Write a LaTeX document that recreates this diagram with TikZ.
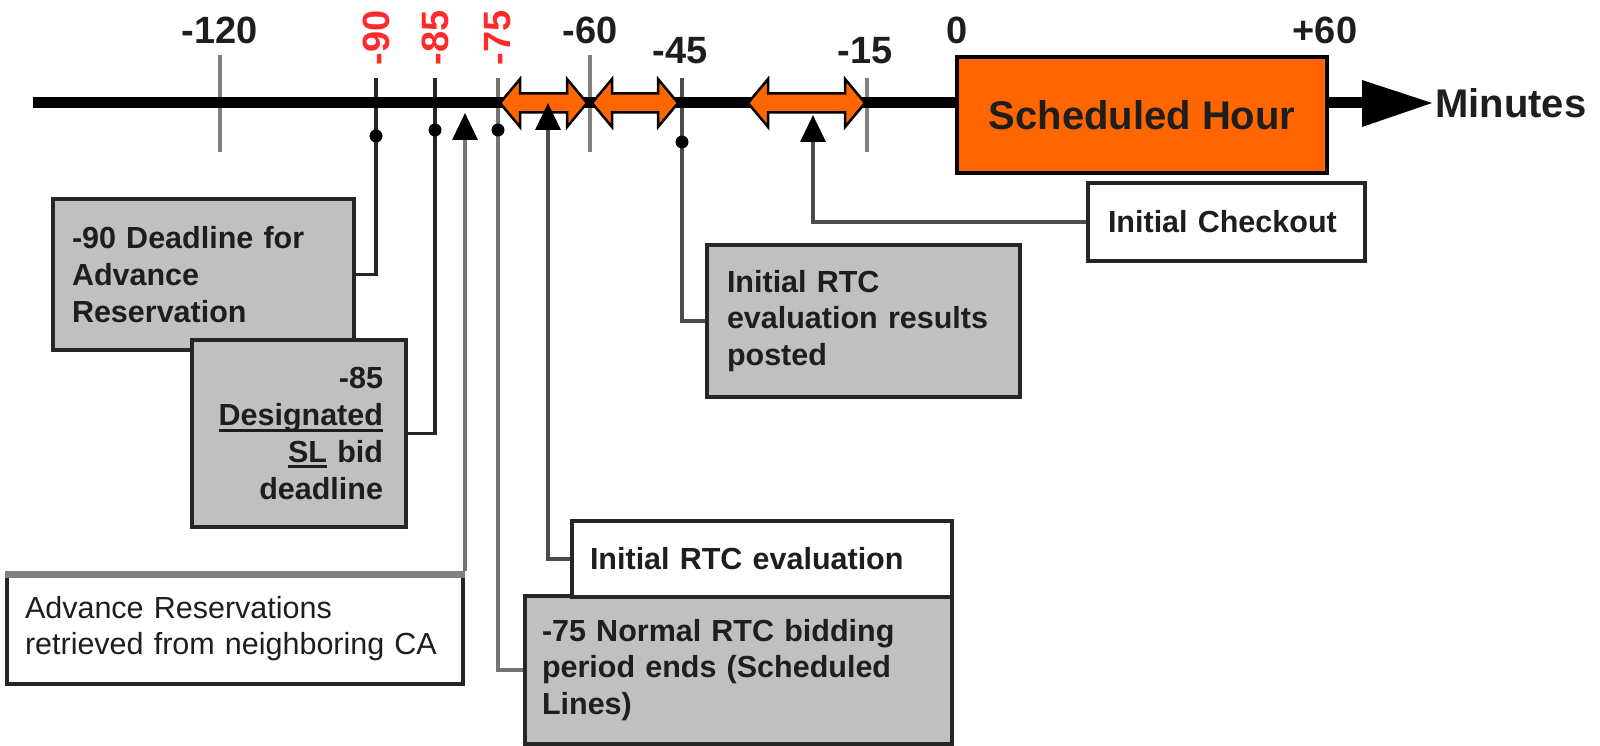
\documentclass[tikz,border=0pt]{standalone}
\usepackage{fontspec}
\setmainfont{Liberation Sans}
\usetikzlibrary{arrows.meta}
\definecolor{boxgray}{HTML}{C0C0C0}
\definecolor{sched}{HTML}{FF6600}
\definecolor{tickred}{HTML}{FF2A2A}
\definecolor{tickgray}{HTML}{808080}
\definecolor{txt}{HTML}{1E1E1E}
\newcommand\myul[1]{\leavevmode\setbox0\hbox{#1}\rlap{\rule[-6pt]{\wd0}{3pt}}\box0\relax}
\pgfdeclarelayer{bg}
\pgfsetlayers{bg,main}
\begin{document}
\begin{tikzpicture}[x=1pt,y=-1pt,
  boxtext/.style={font=\fontsize{30.5}{36.7}\selectfont\bfseries, text=txt},
  gbox/.style={draw=black!85, line width=3.5pt, fill=boxgray, inner ysep=0pt, boxtext},
  wbox/.style={gbox, fill=white},
  conn/.style={draw=black!70, line width=3.5pt},
  tickln/.style={draw=tickgray, line width=4pt},
  ticklbl/.style={font=\fontsize{38}{40}\selectfont\bfseries, text=txt, inner sep=0pt},
  redlbl/.style={ticklbl, text=tickred, rotate=90},
  dbl/.style={fill=sched, draw=black, line width=2.5pt, line join=miter},
  uptip/.style={-{Triangle[length=27pt,width=25pt,color=black]}}
]
\useasboundingbox (0,0) rectangle (1600,746);

% boxes
\node[gbox, minimum width=301pt, minimum height=151pt, text width=263pt, inner xsep=19pt, align=left] (b90) at (203.5,274.5) {-90 Deadline for\\Advance\\Reservation};
\node[gbox, minimum width=214pt, minimum height=187pt, text width=168pt, inner xsep=23pt, align=right] (b85) at (299,433.5) {-85\\\myul{Designated}\\\myul{SL} bid\\deadline};
\node[wbox, font=\fontsize{30.5}{36.7}\selectfont, minimum width=456pt, minimum height=111pt, text width=420pt, inner xsep=18pt, align=left] (badv) at (235,628.5) {Advance Reservations\\retrieved from neighboring CA};
\draw[draw=tickgray, line width=7pt] ([yshift=-3.5pt]badv.north west) -- ([yshift=-3.5pt]badv.north east);
\node[gbox, minimum width=427pt, minimum height=148pt, text width=393pt, inner xsep=17pt, align=left] (b75) at (738.5,670) {-75 Normal RTC bidding\\period ends (Scheduled\\Lines)};
\node[wbox, minimum width=380pt, minimum height=76pt, text width=344pt, inner xsep=18pt, align=left] (beval) at (762,559) {Initial RTC evaluation};
\node[gbox, minimum width=313pt, minimum height=152pt, text width=273pt, inner xsep=20pt, align=left] (b45) at (863.5,321) {Initial RTC\\evaluation results\\posted};
\node[wbox, minimum width=277pt, minimum height=78pt, text width=237pt, inner xsep=20pt, align=left] (bcheck) at (1226.5,222) {Initial Checkout};
\node[draw=black, line width=4pt, fill=sched, minimum width=370pt, minimum height=116pt, font=\fontsize{40}{44}\selectfont\bfseries, text=txt, inner sep=0pt] (sched) at (1142,115) {Scheduled Hour};

% labels
\node[ticklbl] (l120) at (220,30) {-120};
\node[ticklbl] (l60) at (590,30) {-60};
\node[ticklbl] (l45) at (680,51) {-45};
\node[ticklbl] (l15) at (865,51) {-15};
\node[ticklbl] (l0) at (957,30) {0};
\node[ticklbl] (lp60) at (1325,30) {+60};
\node[redlbl] (l90) at (376,38) {-90};
\node[redlbl] (l85) at (435,38) {-85};
\node[redlbl] (l75) at (498,38) {-75};
\node[anchor=west, inner sep=0pt, font=\fontsize{40}{44}\selectfont\bfseries, text=txt] (lmin) at (1435,103) {Minutes};

\coordinate (t90) at (376,78);
\coordinate (t85) at (435,78);
\coordinate (t75) at (498,78);
\coordinate (t45) at (682,78);
\coordinate (aadv) at (465,113);
\coordinate (aeval) at (548,103);
\coordinate (acheck) at (813,115);
\coordinate (axstart) at (33,103);
\coordinate (axend) at (1366,103);

\begin{pgfonlayer}{bg}
  % ticks
  \draw[tickln] (220,55) -- (220,152);
  \draw[tickln] (590,55) -- (590,152);
  \draw[tickln] (867,78) -- (867,152);
  % connectors from ticks
  \draw[conn, draw=black!85] (t90) |- (b90.east);
  \draw[conn, draw=black!85] (t85) |- (b85.east);
  \draw[conn, draw=black!55] (t75) |- (b75.west);
  \draw[conn] (t45) |- (b45.west);
  % axis
  \draw[line width=11pt] (axstart) -- (axend);
  \fill (1362,80) -- (1432,103) -- (1362,127) -- cycle;
  % orange double arrows
  \foreach \xa/\xb in {500/587, 592/678, 748/865}{
    \filldraw[dbl] (\xa,103) -- ({\xa+20},79) -- ({\xa+20},93.5) -- ({\xb-20},93.5) -- ({\xb-20},79) -- (\xb,103)
      -- ({\xb-20},127) -- ({\xb-20},112.5) -- ({\xa+20},112.5) -- ({\xa+20},127) -- cycle;
  }
  % up arrows
  \draw[conn, draw=black!55, uptip] (badv.north east -| aadv) -- (aadv);
  \draw[conn, uptip] (beval.west) -| (aeval);
  \draw[conn, uptip] (bcheck.west) -| (acheck);
  % dots
  \fill (376,136) circle[radius=6.5pt];
  \fill (435,130) circle[radius=6.5pt];
  \fill (498,130) circle[radius=6.5pt];
  \fill (682,142) circle[radius=6.5pt];
\end{pgfonlayer}
\end{tikzpicture}
\end{document}
